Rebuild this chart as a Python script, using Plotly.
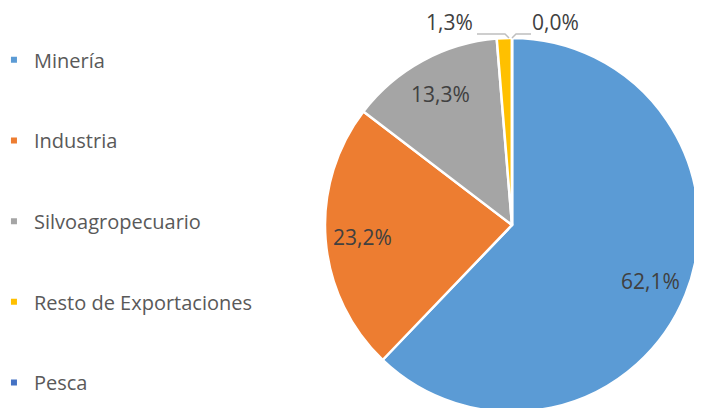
import math
import plotly.graph_objects as go

labels = ["Minería", "Industria", "Silvoagropecuario", "Resto de Exportaciones", "Pesca"]
values = [62.1, 23.2, 13.3, 1.3, 0.0]
colors = ["#5B9BD5", "#ED7D31", "#A5A5A5", "#FFC000", "#4472C4"]

W, H = 702, 408
OFF = 8                      # page body margin in the browser
CX, CY, R = 512, 225, 187    # pie centre / radius in screen pixels (layout)

def fmt(v):
    return f"{v:.1f}%".replace(".", ",")

def px(sx):
    return (sx - OFF) / W

def py(sy):
    return 1 - (sy - OFF) / H

texts = [fmt(v) for v in values]
LABEL_FONT = dict(family="Open Sans", size=21, color="#404040")

fig = go.Figure()
fig.add_trace(go.Pie(
    labels=labels, values=values, text=texts, textinfo="none",
    sort=False, direction="clockwise", rotation=0,
    marker=dict(colors=colors, line=dict(color="white", width=2.5)),
    domain=dict(x=[px(CX - R), px(CX + R)], y=[py(CY + R), py(CY - R)]),
    showlegend=False, hoverinfo="label+text",
))
for lab, col in zip(labels, colors):
    fig.add_trace(go.Scatter(
        x=[None], y=[None], mode="markers", name=lab, legendgroup=lab,
        marker=dict(symbol="square", size=6, color=col),
        showlegend=True,
    ))

def label(txt, sx, sy):
    fig.add_annotation(text=txt, x=px(sx), y=py(sy), xref="paper", yref="paper",
                       xanchor="center", yanchor="middle",
                       showarrow=False, font=LABEL_FONT)

# inside labels at 0.8 R on each slice's mid-angle
total = sum(values)
cum = 0.0
for i, v in enumerate(values):
    mid = (cum + v / 2) / total * 2 * math.pi
    cum += v
    if i >= 3:
        continue
    label(texts[i], CX + 0.8 * R * math.sin(mid), CY - 0.8 * R * math.cos(mid))

# outside labels for the two smallest slices
label(texts[3], 449, 22)
label(texts[4], 555, 22)
fig.add_shape(type="path", xref="paper", yref="paper",
              path=f"M {px(477)} {py(34)} L {px(505)} {py(34)} L {px(509)} {py(38)}",
              line=dict(color="#BFBFBF", width=1.5))
fig.add_shape(type="path", xref="paper", yref="paper",
              path=f"M {px(512)} {py(38)} L {px(516)} {py(34)} L {px(531)} {py(34)}",
              line=dict(color="#BFBFBF", width=1.5))

fig.update_layout(
    width=W, height=H,
    margin=dict(l=0, r=0, t=0, b=0, autoexpand=False),
    paper_bgcolor="white", plot_bgcolor="white",
    xaxis=dict(visible=False), yaxis=dict(visible=False),
    legend=dict(x=-0.02, y=0.921, xanchor="left", yanchor="top",
                font=dict(family="Open Sans", size=20, color="#595959"),
                tracegroupgap=51.7, itemwidth=30, bgcolor="rgba(0,0,0,0)"),
    font=dict(family="Open Sans"),
)
fig.write_html("out.html")
